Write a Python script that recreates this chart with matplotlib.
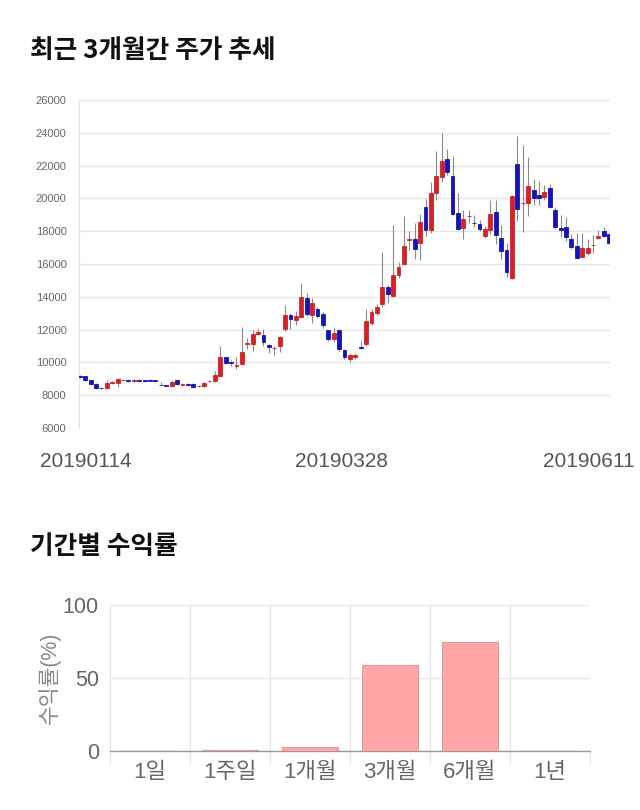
import matplotlib
matplotlib.use("Agg")
import matplotlib.pyplot as plt
import numpy as np

plt.rcParams['font.family'] = ['Noto Sans CJK KR', 'DejaVu Sans']
LAT = ['Liberation Sans', 'Noto Sans CJK KR', 'DejaVu Sans']

# ---- candle data (OHLC) ----
opens = [9200, 9150, 8900, 8700, 8450, 8450, 8750, 8750, 8950, 8950,
         8850, 8950, 8920, 8950, 8930, 8650, 8600, 8550, 8900, 8600,
         8700, 8700, 8550, 8550, 8850, 8850, 9200, 10300, 10000, 9800,
         9900, 11100, 11100, 11750, 11700, 11050, 10850, 11000, 12050, 12900,
         12600, 12750, 13950, 12900, 13250, 12950, 11950, 11400, 12000, 10750,
         10200, 10300, 10950, 11150, 12400, 13000, 13550, 14600, 14050, 15300,
         16000, 17450, 17550, 17300, 19500, 18100, 20300, 21300, 22400, 21350,
         19100, 18200, 18900, 18500, 18450, 17700, 18050, 19150, 17600, 16850,
         15150, 22100, 19700, 19700, 20500, 20200, 20100, 20650, 19300, 18200,
         18250, 17500, 17100, 16400, 16650, 17150, 17600, 18000, 17800]
highs = [9250, 9200, 8950, 8750, 8500, 8900, 8850, 9050, 9000, 9000,
         9000, 9000, 8950, 9000, 8950, 8800, 8650, 8900, 8950, 8750,
         8750, 8750, 8600, 8800, 8950, 9500, 11000, 10350, 10150, 10300,
         12150, 11500, 12000, 12050, 12050, 11100, 11000, 11600, 13500, 13000,
         13150, 14850, 14250, 13900, 13400, 13100, 12000, 12100, 12050, 10800,
         10600, 10550, 11300, 13250, 13250, 13550, 16750, 14700, 18350, 16100,
         18950, 18000, 18500, 19050, 19950, 21000, 22900, 24000, 23000, 22600,
         20350, 19300, 19300, 19000, 18700, 18300, 19900, 19900, 18400, 17250,
         20200, 23800, 23250, 22500, 21200, 21050, 20800, 20850, 19450, 19000,
         18850, 17850, 17900, 17900, 17550, 17750, 18050, 18250, 17900]
lows = [9050, 8850, 8650, 8400, 8400, 8400, 8700, 8500, 8900, 8800,
        8800, 8850, 8800, 8850, 8800, 8600, 8550, 8500, 8650, 8550,
        8550, 8450, 8500, 8500, 8800, 8800, 9150, 9900, 9800, 9600,
        9850, 10800, 10700, 11700, 11000, 10550, 10450, 10650, 11900, 12050,
        12300, 12700, 12800, 12400, 12700, 12100, 11300, 11250, 10700, 10200,
        10000, 10200, 10800, 11000, 12250, 12900, 13400, 13600, 14000, 15150,
        15950, 16850, 16300, 16250, 17700, 17900, 19900, 21000, 21450, 19000,
        18100, 17550, 18500, 18250, 18000, 17600, 17850, 17200, 16300, 15200,
        15100, 18600, 17950, 18900, 19600, 19600, 19900, 19400, 18150, 17650,
        17400, 16900, 16300, 16350, 16550, 16700, 17500, 17650, 17200]
closes = [9100, 8900, 8700, 8450, 8430, 8750, 8780, 9000, 8950, 8850,
          8950, 8880, 8850, 8880, 8860, 8630, 8580, 8800, 8700, 8700,
          8600, 8500, 8560, 8750, 8870, 9250, 10300, 9950, 9980, 9820,
          10650, 11200, 11750, 11850, 11250, 10950, 10900, 11550, 12900, 12650,
          12850, 14000, 12950, 13600, 12850, 12250, 11400, 11800, 10800, 10300,
          10450, 10450, 10850, 12500, 13050, 13350, 14600, 14150, 15300, 15800,
          17100, 17550, 16900, 18550, 18100, 20350, 21350, 22300, 21600, 19050,
          18150, 18750, 18920, 18480, 18150, 18150, 19050, 17750, 16800, 15500,
          20150, 19350, 19720, 20750, 20000, 20000, 20400, 19500, 18250, 18050,
          17650, 17050, 16350, 17000, 17000, 17170, 17700, 17700, 17250]
date_labels = ['20190114', '20190328', '20190611']
price_ticks = [6000, 8000, 10000, 12000, 14000, 16000, 18000, 20000, 22000, 24000, 26000]

# ---- return data ----
periods = ['1일', '1주일', '1개월', '3개월', '6개월', '1년']
returns = [0.0, 0.5, 2.5, 59.0, 75.0, 0.0]

RED = '#d42226'
BLUE = '#1414b8'

fig = plt.figure(figsize=(6.4, 8.1), dpi=100)

fig.text(30/640, 1-51/810, '최근 3개월간 주가 추세', fontsize=18.5, fontweight='heavy',
         va='center', ha='left', color='#111111')
fig.text(30/640, 1-546/810, '기간별 수익률', fontsize=18.5, fontweight='heavy',
         va='center', ha='left', color='#111111')

# ---- candlestick axes ----
ax = fig.add_axes([79/640, 1-428/810, 531/640, 328/810])
idx = np.arange(len(opens))
o = np.array(opens, float); c = np.array(closes, float)
h = np.array(highs, float); l = np.array(lows, float)
up = c >= o
colors = np.where(up, RED, BLUE)
ax.vlines(idx, l, h, colors='#8a8a8a', linewidth=0.8, zorder=2)
bottoms = np.minimum(o, c)
heights = np.abs(c - o)
ax.bar(idx, heights, bottom=bottoms, width=0.72, color=colors, edgecolor=colors,
       linewidth=0.6, zorder=3)
ax.set_xlim(-0.15, 98.15)
ax.set_ylim(6000, 26000)
ax.set_yticks(price_ticks)
ax.set_yticklabels([str(v) for v in price_ticks], fontsize=8, color='#666666', family=LAT)
ax.tick_params(axis='y', length=0, pad=9)
ax.yaxis.grid(True, color='#e6e6e6', linewidth=0.9)
ax.set_axisbelow(True)
for s in ['top', 'right', 'bottom']:
    ax.spines[s].set_visible(False)
ax.spines['left'].set_color('#e3e3e3')
ax.spines['left'].set_linewidth(0.9)
ax.set_xticks([1.2, 48.5, 94.3])
ax.set_xticklabels(date_labels, fontsize=15, color='#555555', family=LAT)
ax.tick_params(axis='x', length=0, pad=17)

# ---- returns bar axes ----
bx = fig.add_axes([110/640, 1-751/810, 480/640, 146/810])
xpos = np.arange(len(periods))
bx.bar(xpos, returns, width=0.7, color='#ffa6a6', edgecolor='#e59a9a', linewidth=0.8, zorder=3)
bx.set_xlim(-0.5, len(periods) - 0.5)
bx.set_ylim(0, 100)
bx.set_yticks([0, 50, 100])
bx.set_yticklabels(['0', '50', '100'], fontsize=15.5, color='#666666', family=LAT)
bx.tick_params(axis='y', length=0, pad=8)
bx.set_xticks(xpos)
bx.set_xticklabels(periods, fontsize=16, color='#666666', family=LAT)
bx.tick_params(axis='x', which='major', length=0, pad=8)
bx.set_xticks(np.arange(-0.5, len(periods) - 0.4, 1.0), minor=True)
bx.tick_params(axis='x', which='minor', length=10, color='#e6e6e6', width=0.9)
bx.xaxis.grid(True, which='minor', color='#e6e6e6', linewidth=0.9)
bx.yaxis.grid(True, color='#e6e6e6', linewidth=0.9)
bx.set_axisbelow(True)
for s in ['top', 'right', 'left']:
    bx.spines[s].set_visible(False)
bx.spines['bottom'].set_color('#999999')
bx.spines['bottom'].set_linewidth(1.0)
bx.set_ylabel('수익률(%)', fontsize=15.5, color='#888888', labelpad=1, family=LAT,
              fontweight='light')

fig.savefig('out.png', dpi=100)
